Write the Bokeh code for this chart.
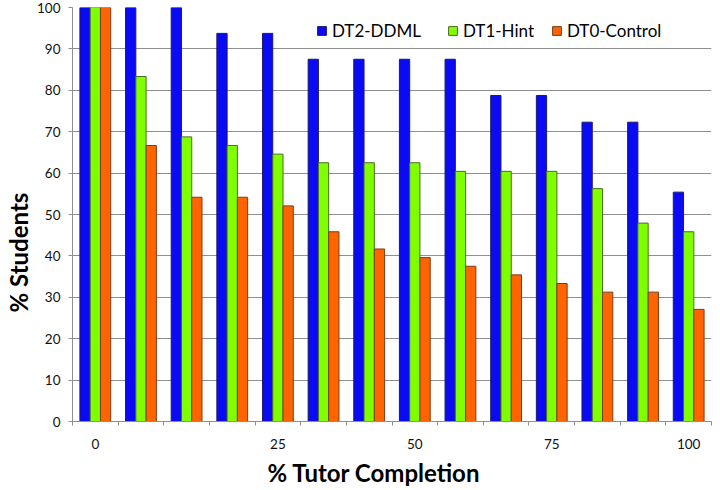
from bokeh.plotting import figure
from bokeh.models import (ColumnDataSource, Range1d, FixedTicker, SingleIntervalTicker,
                          Legend, LegendItem, Title)
from bokeh.embed import file_html
from bokeh.resources import INLINE

# Share of students still active at each tutor-completion step (14 steps)
n_steps = 14
ddml = [100, 100, 100, 93.75, 93.75, 87.5, 87.5, 87.5, 87.5, 78.75, 78.75, 72.3, 72.3, 55.4]
hint = [100, 83.33, 68.75, 66.67, 64.58, 62.5, 62.5, 62.5, 60.42, 60.42, 60.42, 56.25, 47.92, 45.83]
control = [100, 66.67, 54.17, 54.17, 52.08, 45.83, 41.67, 39.58, 37.5, 35.42, 33.33, 31.25, 31.25, 27.08]

series_names = ["DT2-DDML", "DT1-Hint", "DT0-Control"]
fill_colors = ["#0a0af5", "#80ff00", "#ff6400"]
edge_colors = ["#1a1a6e", "#4d6b1f", "#7a3d1a"]

# Labelled steps on the completion axis
label_steps = [0, 4, 7, 10, 13]
label_texts = ["0", "25", "50", "75", "100"]

FONT = "Lato"
GRID = "#8f8f8f"

p = figure(width=720, height=490, output_backend="svg", toolbar_location=None,
           x_range=Range1d(0, n_steps), y_range=Range1d(0, 100),
           min_border_left=72, min_border_right=9, min_border_top=7, min_border_bottom=8)
p.outline_line_color = None
p.background_fill_color = "white"
p.border_fill_color = "white"

steps = list(range(n_steps))
bar_w = 0.225
offsets = [-0.225, 0.0, 0.225]
renderers = []
for vals, off, fc, ec in zip([ddml, hint, control], offsets, fill_colors, edge_colors):
    src = ColumnDataSource(dict(x=[s + 0.5 + off for s in steps], top=vals))
    r = p.vbar(x="x", top="top", width=bar_w, bottom=0, source=src,
               fill_color=fc, line_color=ec, line_width=1)
    renderers.append(r)

# Y axis
p.yaxis.ticker = SingleIntervalTicker(interval=10, num_minor_ticks=0)
p.yaxis.axis_line_color = GRID
p.yaxis.major_tick_line_color = GRID
p.yaxis.major_tick_out = 4
p.yaxis.major_tick_in = 0
p.yaxis.minor_tick_line_color = None
p.yaxis.major_label_text_font = FONT
p.yaxis.major_label_text_font_size = "13.5px"
p.yaxis.major_label_text_color = "#111111"
p.yaxis.major_label_standoff = 8

# X axis: labels at step centres, tick marks on step boundaries
p.xaxis.ticker = FixedTicker(ticks=[s + 0.5 for s in label_steps],
                             minor_ticks=list(range(n_steps + 1)))
p.xaxis.major_label_overrides = {s + 0.5: t for s, t in zip(label_steps, label_texts)}
p.xaxis.axis_line_color = GRID
p.xaxis.major_tick_out = 0
p.xaxis.major_tick_in = 0
p.xaxis.minor_tick_line_color = GRID
p.xaxis.minor_tick_out = 4
p.xaxis.minor_tick_in = 0
p.xaxis.major_label_text_font = FONT
p.xaxis.major_label_text_font_size = "13.5px"
p.xaxis.major_label_text_color = "#111111"
p.xaxis.major_label_standoff = 13

p.xgrid.grid_line_color = None
p.ygrid.ticker = SingleIntervalTicker(interval=10, num_minor_ticks=0)
p.ygrid.grid_line_color = GRID
p.ygrid.grid_line_width = 1

# Axis titles
p.add_layout(Title(text="% Tutor Completion", align="left", offset=195, standoff=8,
                   text_font=FONT, text_font_style="bold", text_font_size="24px",
                   text_color="black"), "below")
p.add_layout(Title(text="% Students", align="left", offset=109, standoff=3,
                   text_font=FONT, text_font_style="bold", text_font_size="24px",
                   text_color="black"), "left")

# Legend entries, one per series
legend_x = [316 - 72, 447 - 72, 551 - 72]
for name, r, lx in zip(series_names, renderers, legend_x):
    lg = Legend(items=[LegendItem(label=name, renderers=[r])],
                location=(lx, 421 - 41), orientation="horizontal",
                glyph_width=11, glyph_height=11, label_height=11, label_standoff=5,
                padding=0, margin=0, spacing=0,
                border_line_color=None, background_fill_alpha=0,
                label_text_font=FONT, label_text_font_size="17px", label_text_color="black")
    p.add_layout(lg)

open("out.html", "w").write(file_html(p, INLINE))
